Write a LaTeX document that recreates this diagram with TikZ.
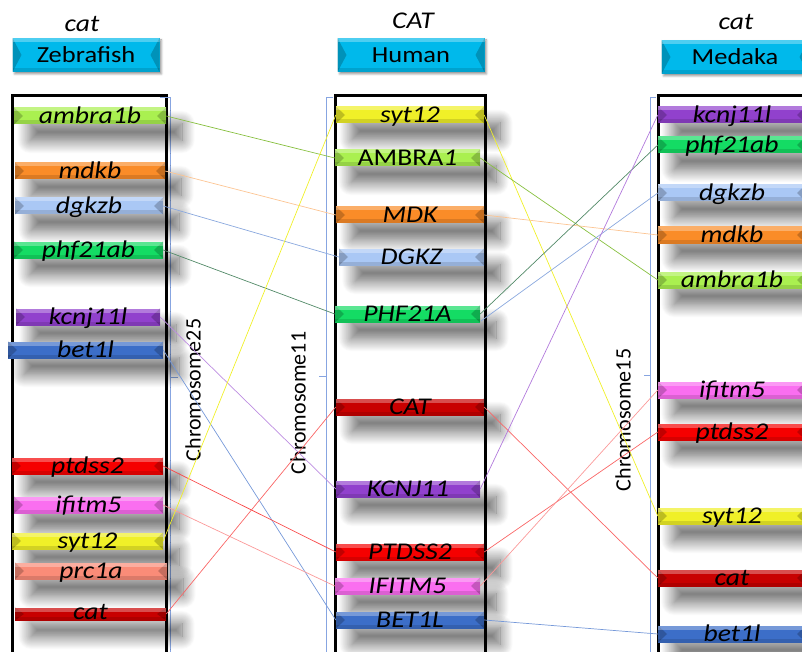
\documentclass[tikz,border=0pt]{standalone}
\usepackage{fontspec}
\setmainfont{Carlito}
\newfontfamily\widefont{Carlito}[FakeStretch=1.15]
\usetikzlibrary{shadows.blur}

\definecolor{hdrblue}{RGB}{0,185,235}
\definecolor{limeg}{RGB}{170,240,80}
\definecolor{orng}{RGB}{250,140,40}
\definecolor{skyb}{RGB}{170,200,245}
\definecolor{grn}{RGB}{20,220,100}
\definecolor{purp}{RGB}{145,65,205}
\definecolor{blu}{RGB}{60,110,200}
\definecolor{rd}{RGB}{245,0,0}
\definecolor{pnk}{RGB}{250,110,240}
\definecolor{ylw}{RGB}{240,240,40}
\definecolor{salm}{RGB}{250,140,120}
\definecolor{drd}{RGB}{200,0,0}
\definecolor{brk}{RGB}{135,165,225}

\begin{document}
\begin{tikzpicture}[x=1pt,y=-1pt,
  bevel/.style={path picture={
      \fill[#1!70!black,opacity=.7] (path picture bounding box.north west) -- (path picture bounding box.south west) -- ([xshift=9pt]path picture bounding box.west) -- cycle;
      \fill[#1!70!black,opacity=.7] (path picture bounding box.north east) -- (path picture bounding box.south east) -- ([xshift=-9pt]path picture bounding box.east) -- cycle;
      \fill[white,opacity=.3] (path picture bounding box.north west) rectangle ([yshift=-4pt]path picture bounding box.north east);
      \fill[black,opacity=.12] ([yshift=4pt]path picture bounding box.south west) rectangle (path picture bounding box.south east);}},
  gene/.style={fill=#1, bevel=#1, minimum width=148pt, minimum height=17pt,
    inner sep=0pt, text height=16pt, text depth=1pt,
    font=\widefont\fontsize{24}{24}\selectfont\itshape,
    blur shadow={shadow xshift=16pt, shadow yshift=-16pt, shadow blur radius=13pt, shadow blur steps=20, shadow opacity=60}},
  header/.style={fill=hdrblue, bevel=hdrblue, minimum width=147pt, minimum height=34pt,
    inner sep=0pt, font=\widefont\fontsize{23}{23}\selectfont,
    blur shadow={shadow xshift=2pt, shadow yshift=-2pt, shadow blur radius=2pt, shadow opacity=40}},
  title/.style={font=\widefont\fontsize{24}{24}\selectfont\itshape},
  chromlabel/.style={rotate=90, font=\fontsize{22}{22}\selectfont},
  chrom/.style={line width=3pt, black},
  bracket/.style={draw=brk, line width=0.8pt},
  link/.style={draw=#1, line width=0.7pt}]

\useasboundingbox (0,0) rectangle (802,652);

% chromosome outlines and brackets
\draw[chrom] (12,652) -- (12,96) -- (166,96) -- (166,652);
\draw[chrom] (335,652) -- (335,96) -- (485,96) -- (485,652);
\draw[chrom] (658,652) -- (658,96) -- (802,96);
\draw[bracket] (160,97) -- (170,97) -- (170,652) (170,377) -- (178,377);
\draw[bracket] (333,97) -- (326,97) -- (326,652) (326,376) -- (319,376);
\draw[bracket] (656,97) -- (650,97) -- (650,652) (650,375) -- (644,375);

\node[chromlabel] (c25) at (193,390) {Chromosome25};
\node[chromlabel] (c11) at (298,403) {Chromosome11};
\node[chromlabel] (c15) at (623,420) {Chromosome15};

% species headers
\node[title] (tz) at (82,24) {cat};
\node[title] (th) at (413,21) {CAT};
\node[title] (tm) at (736,22) {cat};
\node[header] (zebra) at (86,55) {Zebrafish};
\node[header] (human) at (411,55) {Human};
\node[header] (medaka) at (735,57) {Medaka};

% zebrafish genes
\node[gene=limeg, minimum width=152pt] (zambra) at (90,116) {ambra1b};
\node[gene=orng, minimum width=150pt] (zmdk) at (90,171) {mdkb};
\node[gene=skyb] (zdgkz) at (89,206) {dgkzb};
\node[gene=grn, minimum width=149pt] (zphf) at (88.5,250) {phf21ab};
\node[gene=purp, minimum width=144pt] (zkcnj) at (88,317) {kcnj11l};
\node[gene=blu, minimum width=155pt] (zbet) at (85.5,350) {bet1l};
\node[gene=rd, minimum width=151pt] (zptdss) at (87.5,466) {ptdss2};
\node[gene=pnk, minimum width=149pt] (zifitm) at (88.5,505) {ifitm5};
\node[gene=ylw, minimum width=151pt] (zsyt) at (87.5,541) {syt12};
\node[gene=salm, minimum width=152pt] (zprc) at (91,571) {prc1a};
\node[gene=drd, minimum width=151pt, minimum height=13pt, text height=12pt] (zcat) at (90.5,614) {cat};

% human genes
\node[gene=ylw] (hsyt) at (410,115) {syt12};
\node[gene=limeg, minimum width=145pt] (hambra) at (407.5,158) {\upshape AMBRA\textit{1}};
\node[gene=orng] (hmdk) at (410,215) {MDK};
\node[gene=skyb, minimum width=145pt] (hdgkz) at (411.5,257) {DGKZ};
\node[gene=grn, minimum width=145pt] (hphf) at (407.5,314) {PHF21A};
\node[gene=drd] (hcat) at (410,407) {CAT};
\node[gene=purp, minimum width=144pt] (hkcnj) at (408,489) {KCNJ11};
\node[gene=rd] (hptdss) at (410,552) {PTDSS2};
\node[gene=pnk, minimum width=145pt] (hifitm) at (407.5,586) {IFITM5};
\node[gene=blu] (hbet) at (410,620) {BET1L};

% medaka genes
\node[gene=purp] (mkcnj) at (732,115) {kcnj11l};
\node[gene=grn] (mphf) at (732,145) {phf21ab};
\node[gene=skyb] (mdgkz) at (732,193) {dgkzb};
\node[gene=orng] (mmdk) at (732,235) {mdkb};
\node[gene=limeg] (mambra) at (732,280) {ambra1b};
\node[gene=pnk] (mifitm) at (732,390) {ifitm5};
\node[gene=rd] (mptdss) at (732,432) {ptdss2};
\node[gene=ylw] (msyt) at (732,516) {syt12};
\node[gene=drd] (mcat) at (732,578) {cat};
\node[gene=blu] (mbet) at (732,634) {bet1l};

% zebrafish -- human
\draw[link=limeg!80!black] (zambra.east) -- (hambra.west);
\draw[link=orng!50] (zmdk.east) -- (hmdk.west);
\draw[link=blu!60] (zdgkz.east) -- (hdgkz.west);
\draw[link=grn!40!black!70] (zphf.east) -- (hphf.west);
\draw[link=purp!60] (zkcnj.east) -- (hkcnj.west);
\draw[link=blu!70] (zbet.east) -- (hbet.west);
\draw[link=rd!70] (zptdss.east) -- (hptdss.west);
\draw[link=rd!40] (zifitm.east) -- (hifitm.west);
\draw[link=ylw] (zsyt.east) -- (hsyt.west);
\draw[link=rd!60] (zcat.east) -- (hcat.west);

% human -- medaka
\coordinate (hphfb) at (481,321);
\draw[link=ylw] (hsyt.east) -- (msyt.west);
\draw[link=limeg!80!black] (hambra.east) -- (mambra.west);
\draw[link=orng!50] (hmdk.east) -- (mmdk.west);
\draw[link=blu!60] (hphfb) -- (mdgkz.west);
\draw[link=grn!40!black!70] (hphf.east) -- (mphf.west);
\draw[link=rd!60] (hcat.east) -- (mcat.west);
\draw[link=purp!70] (hkcnj.east) -- (mkcnj.west);
\draw[link=rd!60] (hptdss.east) -- (mptdss.west);
\draw[link=rd!40] (hifitm.east) -- (mifitm.west);
\draw[link=blu!70] (hbet.east) -- (mbet.west);
\end{tikzpicture}
\end{document}
